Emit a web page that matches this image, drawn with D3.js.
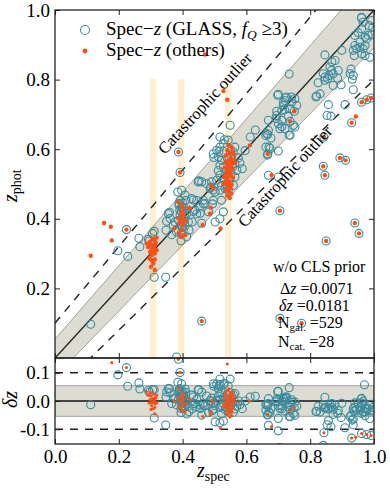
<!DOCTYPE html>
<html>
<head>
<meta charset="utf-8">
<script src="https://cdn.jsdelivr.net/npm/d3@7"></script>
<style>
body{margin:0;background:#fff}
svg{display:block;font-family:"Liberation Serif","DejaVu Serif",serif}
</style>
</head>
<body>
<svg id="chart"></svg>
<script>
// [zspec, zphot] pairs
const glassLowZ = [[0.112,0.097],[0.197,0.308],[0.224,0.369],[0.228,0.292],[0.263,0.344],[0.266,0.320]]
const glassZ03 = [[0.293,0.341],[0.296,0.336],[0.306,0.358],[0.311,0.364],[0.311,0.232],[0.347,0.232],[0.348,0.367]]
const glassZ04 = [[0.355,0.415],[0.361,0.401],[0.376,0.391],[0.389,0.439],[0.397,0.434],[0.402,0.425],[0.392,0.410],[0.387,0.396],
  [0.395,0.382],[0.402,0.367],[0.408,0.405],[0.413,0.415],[0.418,0.391],[0.420,0.367],[0.381,0.362],[0.395,0.358],[0.413,0.348],
  [0.395,0.337],[0.385,0.477],[0.397,0.482],[0.408,0.468],[0.392,0.453],[0.410,0.453],[0.389,0.444],[0.402,0.434],[0.451,0.509],
  [0.434,0.454],[0.444,0.414],[0.455,0.416],[0.460,0.387],[0.465,0.443],[0.430,0.391],[0.434,0.421],[0.428,0.458],[0.444,0.453],
  [0.455,0.434],[0.439,0.425],[0.470,0.444],[0.449,0.506],[0.359,0.419],[0.350,0.393],[0.371,0.382],[0.366,0.354],[0.392,0.533],
  [0.387,0.592],[0.381,0.003],[0.398,0.400],[0.400,0.388],[0.404,0.395],[0.396,0.420],[0.405,0.412],[0.399,0.375],[0.391,0.425],
  [0.407,0.380],[0.401,0.445]]
const glassZ055 = [[0.496,0.587],[0.507,0.597],[0.517,0.606],[0.528,0.616],[0.543,0.626],[0.564,0.606],[0.559,0.592],[0.554,0.578],
  [0.564,0.559],[0.570,0.539],[0.564,0.520],[0.559,0.496],[0.543,0.482],[0.533,0.487],[0.517,0.482],[0.522,0.496],[0.507,0.511],
  [0.528,0.516],[0.517,0.525],[0.512,0.539],[0.528,0.549],[0.517,0.554],[0.522,0.568],[0.512,0.578],[0.491,0.506],[0.475,0.501],
  [0.460,0.506],[0.486,0.487],[0.502,0.477],[0.496,0.453],[0.465,0.453],[0.481,0.420],[0.528,0.420],[0.522,0.453],[0.549,0.669],
  [0.517,0.635],[0.498,0.576],[0.514,0.593],[0.531,0.627],[0.488,0.491],[0.496,0.483],[0.494,0.443],[0.502,0.391],[0.517,0.400],
  [0.587,0.544],[0.596,0.596],[0.538,0.540],[0.548,0.560],[0.545,0.510],[0.552,0.530],[0.540,0.575],[0.556,0.548],[0.536,0.500],
  [0.550,0.595],[0.575,0.575],[0.580,0.560]]
const glassMid = [[0.612,0.635],[0.628,0.655],[0.661,0.639],[0.666,0.583],[0.667,0.642],[0.671,0.606],[0.700,0.758],[0.734,0.816],
  [0.695,0.709],[0.716,0.735],[0.723,0.747],[0.711,0.665],[0.731,0.695],[0.742,0.735],[0.752,0.745],[0.737,0.640],[0.752,0.664],
  [0.700,0.595],[0.720,0.713],[0.677,0.632],[0.669,0.654],[0.721,0.740],[0.726,0.750],[0.742,0.750],[0.758,0.726],[0.716,0.726],
  [0.711,0.712],[0.737,0.716],[0.695,0.697],[0.711,0.683],[0.721,0.659],[0.747,0.669],[0.705,0.659],[0.669,0.683],[0.664,0.645],
  [0.674,0.602],[0.693,0.688],[0.700,0.673],[0.734,0.640],[0.661,0.606],[0.698,0.755],[0.737,0.680],[0.750,0.709],[0.669,0.525],
  [0.700,0.520],[0.667,0.587]]
const glassHighZ = [[0.961,0.979],[0.966,0.965],[0.993,0.970],[0.961,0.946],[0.982,0.927],[0.993,0.929],[0.972,0.922],[0.977,0.917],
  [0.940,0.927],[0.956,0.908],[0.940,0.898],[0.946,0.889],[0.935,0.884],[0.956,0.893],[0.966,0.889],[0.972,0.898],[0.961,0.874],
  [0.972,0.869],[0.938,0.869],[0.846,0.871],[0.899,0.884],[0.878,0.855],[0.862,0.836],[0.867,0.826],[0.872,0.817],[0.859,0.812],
  [0.855,0.803],[0.886,0.804],[0.888,0.826],[0.841,0.817],[0.846,0.798],[0.825,0.791],[0.820,0.753],[0.831,0.759],[0.897,0.785],
  [0.928,0.830],[0.935,0.812],[0.872,0.783],[0.818,0.750],[0.857,0.728],[0.853,0.697],[0.865,0.695],[0.909,0.728],[0.935,0.771],
  [0.930,0.676],[0.961,0.735],[0.977,0.742],[0.991,0.747],[0.843,0.635],[0.970,1.084],[0.961,0.977],[0.925,0.817],[0.932,0.801],
  [0.987,0.864],[0.846,0.807],[0.868,0.851],[0.996,0.950],[0.985,0.955],[0.950,0.935]]
const glassOutliers = [[0.893,0.575],[0.911,0.568],[0.841,0.551],[0.846,0.525],[0.705,0.423],[0.940,0.388],[0.953,0.358],
  [0.850,0.336],[0.460,0.106],[0.705,0.114],[0.773,0.100]]

const othersLowZ = [[0.154,0.388],[0.175,0.377],[0.178,0.338],[0.112,0.294],[0.224,0.369]]
const othersZ03 = [[0.287,0.329],[0.298,0.334],[0.305,0.343],[0.313,0.341],[0.319,0.346],[0.301,0.324],[0.308,0.319],[0.313,0.324],
  [0.303,0.312],[0.298,0.305],[0.308,0.302],[0.313,0.300],[0.303,0.296],[0.319,0.310],[0.296,0.286],[0.303,0.281],[0.313,0.283],
  [0.308,0.272],[0.301,0.262],[0.313,0.253],[0.292,0.319],[0.316,0.331],[0.311,0.312]]
const othersZ04 = [[0.397,0.439],[0.402,0.430],[0.395,0.415],[0.399,0.401],[0.392,0.387],[0.402,0.382],[0.397,0.367],[0.389,0.358],
  [0.405,0.353],[0.395,0.348],[0.410,0.395],[0.387,0.401],[0.402,0.410],[0.374,0.372],[0.421,0.432],[0.408,0.353],[0.387,0.449],
  [0.392,0.533],[0.387,0.592],[0.400,0.420],[0.396,0.392]]
const othersZ055 = [[0.540,0.597],[0.548,0.588],[0.556,0.593],[0.535,0.582],[0.551,0.575],[0.560,0.570],[0.543,0.566],[0.538,0.558],
  [0.553,0.561],[0.546,0.552],[0.532,0.547],[0.557,0.545],[0.541,0.540],[0.549,0.535],[0.536,0.530],[0.552,0.527],[0.544,0.521],
  [0.558,0.518],[0.539,0.512],[0.547,0.507],[0.533,0.503],[0.554,0.498],[0.542,0.494],[0.550,0.488],[0.537,0.483],[0.545,0.478],
  [0.553,0.472],[0.540,0.466],[0.548,0.460],[0.544,0.545],[0.550,0.555],[0.535,0.565],[0.562,0.585],[0.555,0.605],[0.545,0.612],
  [0.530,0.520],[0.528,0.500],[0.565,0.560],[0.548,0.528],[0.541,0.503],[0.528,0.767],[0.540,0.742],[0.519,0.372],[0.463,0.382],
  [0.611,0.611],[0.491,0.496],[0.496,0.487],[0.488,0.432],[0.486,0.415],[0.423,0.430]]
const othersScatter = [[0.470,0.872],[0.679,0.526],[0.667,0.587],[0.750,0.709],[0.737,0.680],[0.943,0.694],[0.930,0.676],
  [0.961,0.735],[0.977,0.742],[0.991,0.747],[0.843,0.635],[0.893,0.575],[0.911,0.568],[0.841,0.551],[0.846,0.525],[0.705,0.423],
  [0.940,0.388],[0.953,0.358],[0.850,0.336],[0.460,0.106],[0.705,0.114],[0.773,0.100]]

const highlightZ = [0.307, 0.396, 0.543]   // spectroscopic spikes
const highlightTop = 0.8
const bandHalf = 0.0543    // 3 x delta z
const outlierCut = 0.1
const topTicks = [0.2, 0.4, 0.6, 0.8, 1.0]
const botTicks = [-0.1, 0.0, 0.1]
const xTicks = [0.0, 0.2, 0.4, 0.6, 0.8, 1.0]
const statLines = [['\u0394','z',' =0.0071'], ['\u03b4','z',' =0.0181']]
const countLines = [['gal.',' =529'], ['cat.',' =28']]

const glass = [].concat(glassLowZ, glassZ03, glassZ04, glassZ055, glassMid, glassHighZ, glassOutliers)
const others = [].concat(othersLowZ, othersZ03, othersZ04, othersZ055, othersScatter)

const W = 390, H = 488
const left = 55, right = 374, topY = 10, midY = 358, botY = 444
const teal = '#3a8c9c', orange = '#ff4f14'

const svg = d3.select('#chart').attr('width', W).attr('height', H)

const x = d3.scaleLinear().domain([0, 1]).range([left, right])
const yTop = d3.scaleLinear().domain([0, 1]).range([midY, topY])
const yBot = d3.scaleLinear().domain([-0.1525, 0.1525]).range([botY, midY])
const dz = d => (d[1] - d[0]) / (1 + d[0])

const defs = svg.append('defs')
defs.append('clipPath').attr('id', 'clipTop').append('rect')
  .attr('x', left).attr('y', topY).attr('width', right - left).attr('height', midY - topY)
defs.append('clipPath').attr('id', 'clipBot').append('rect')
  .attr('x', left).attr('y', midY).attr('width', right - left).attr('height', botY - midY)

// ---------- top panel ----------
const gTop = svg.append('g').attr('clip-path', 'url(#clipTop)')
const zLine = [0, 1]

gTop.append('path')
  .datum(zLine)
  .attr('fill', '#dcdcd2')
  .attr('d', d3.area().x(d => x(d)).y0(d => yTop(d - bandHalf * (1 + d))).y1(d => yTop(d + bandHalf * (1 + d))))

;[-1, 1].forEach(s => {
  gTop.append('path').datum(zLine)
    .attr('fill', 'none').attr('stroke', '#a3a39b').attr('stroke-width', 1)
    .attr('d', d3.line().x(d => x(d)).y(d => yTop(d + s * bandHalf * (1 + d))))
})

gTop.selectAll('rect.spike')
  .data(highlightZ)
  .enter()
  .append('rect')
  .attr('class', 'spike')
  .attr('x', d => x(d - 0.0085))
  .attr('width', d => x(d + 0.0085) - x(d - 0.0085))
  .attr('y', yTop(highlightTop))
  .attr('height', yTop(0) - yTop(highlightTop))
  .attr('fill', 'orange').attr('fill-opacity', 0.17)
  .attr('stroke', 'orange').attr('stroke-opacity', 0.12)

;[-1, 1].forEach(s => {
  gTop.append('path').datum(zLine)
    .attr('fill', 'none').attr('stroke', '#222').attr('stroke-width', 1.4)
    .attr('stroke-dasharray', '8,7')
    .attr('d', d3.line().x(d => x(d)).y(d => yTop(d + s * outlierCut * (1 + d))))
})

gTop.append('path').datum(zLine)
  .attr('fill', 'none').attr('stroke', '#2a2a2a').attr('stroke-width', 1.5)
  .attr('d', d3.line().x(d => x(d)).y(d => yTop(d)))

gTop.selectAll('circle.glass')
  .data(glass)
  .enter()
  .append('circle')
  .attr('class', 'glass')
  .attr('cx', d => x(d[0]))
  .attr('cy', d => yTop(d[1]))
  .attr('r', 4)
  .attr('fill', 'none').attr('stroke', teal).attr('stroke-width', 1.1)

gTop.selectAll('circle.other')
  .data(others)
  .enter()
  .append('circle')
  .attr('class', 'other')
  .attr('cx', d => x(d[0]))
  .attr('cy', d => yTop(d[1]))
  .attr('r', 2.2)
  .attr('fill', orange)

// ---------- bottom panel ----------
const gBot = svg.append('g').attr('clip-path', 'url(#clipBot)')

gBot.append('rect')
  .attr('x', left).attr('width', right - left)
  .attr('y', yBot(bandHalf)).attr('height', yBot(-bandHalf) - yBot(bandHalf))
  .attr('fill', '#dcdcd2').attr('stroke', '#a3a39b').attr('stroke-width', 1)

;[-outlierCut, outlierCut].forEach(v => {
  gBot.append('line')
    .attr('x1', left).attr('x2', right).attr('y1', yBot(v)).attr('y2', yBot(v))
    .attr('stroke', '#222').attr('stroke-width', 1.4).attr('stroke-dasharray', '8,7')
})

gBot.append('line')
  .attr('x1', left).attr('x2', right).attr('y1', yBot(0)).attr('y2', yBot(0))
  .attr('stroke', '#444').attr('stroke-width', 2)

gBot.selectAll('circle.glass')
  .data(glass)
  .enter()
  .append('circle')
  .attr('class', 'glass')
  .attr('cx', d => x(d[0]))
  .attr('cy', d => yBot(dz(d)))
  .attr('r', 4)
  .attr('fill', 'none').attr('stroke', teal).attr('stroke-width', 1.1)

gBot.selectAll('circle.other')
  .data(others)
  .enter()
  .append('circle')
  .attr('class', 'other')
  .attr('cx', d => x(d[0]))
  .attr('cy', d => yBot(dz(d)))
  .attr('r', 1.6)
  .attr('fill', orange)

// ---------- axes ----------
const styleAxis = g => {
  g.select('.domain').remove()
  g.selectAll('.tick line').attr('stroke', '#222').attr('stroke-width', 1)
  g.selectAll('.tick text').attr('fill', '#000').style('font-size', '19px')
    .style('font-family', '"Liberation Serif", serif')
}

svg.append('g').attr('transform', 'translate(' + left + ',0)')
  .call(d3.axisLeft(yTop).tickValues(topTicks).tickFormat(d => d.toFixed(1)).tickSize(-5).tickPadding(5))
  .call(styleAxis)
svg.append('g').attr('transform', 'translate(' + right + ',0)')
  .call(d3.axisRight(yTop).tickValues(topTicks).tickFormat('').tickSize(-5))
  .call(styleAxis)
svg.append('g').attr('transform', 'translate(0,' + topY + ')')
  .call(d3.axisTop(x).tickValues(xTicks).tickFormat('').tickSize(-5))
  .call(styleAxis)
svg.append('g').attr('transform', 'translate(0,' + midY + ')')
  .call(d3.axisBottom(x).tickValues(xTicks).tickFormat('').tickSize(-5))
  .call(styleAxis)
svg.append('g').attr('transform', 'translate(0,' + midY + ')')
  .call(d3.axisTop(x).tickValues(xTicks).tickFormat('').tickSize(-5))
  .call(styleAxis)

svg.append('g').attr('transform', 'translate(' + left + ',0)')
  .call(d3.axisLeft(yBot).tickValues(botTicks).tickFormat(d => d.toFixed(1)).tickSize(-5).tickPadding(5))
  .call(styleAxis)
svg.append('g').attr('transform', 'translate(' + right + ',0)')
  .call(d3.axisRight(yBot).tickValues(botTicks).tickFormat('').tickSize(-5))
  .call(styleAxis)
svg.append('g').attr('transform', 'translate(0,' + botY + ')')
  .call(d3.axisBottom(x).tickValues(xTicks).tickFormat(d => d.toFixed(1)).tickSize(-5).tickPadding(6))
  .call(styleAxis)

// frames
svg.append('rect').attr('x', left).attr('y', topY).attr('width', right - left).attr('height', midY - topY)
  .attr('fill', 'none').attr('stroke', '#222').attr('stroke-width', 1.3)
svg.append('rect').attr('x', left).attr('y', midY).attr('width', right - left).attr('height', botY - midY)
  .attr('fill', 'none').attr('stroke', '#222').attr('stroke-width', 1.3)

// axis labels
const yl = svg.append('text').attr('transform', 'translate(17,202) rotate(-90)').style('font-size', '20px')
yl.append('tspan').style('font-style', 'italic').text('z')
yl.append('tspan').attr('dy', 4).style('font-size', '14px').text('phot')

svg.append('text').attr('transform', 'translate(17,408) rotate(-90)').style('font-size', '20px')
  .style('font-style', 'italic').text('\u03b4z')

const xl = svg.append('text').attr('x', 197).attr('y', 477).style('font-size', '20px')
xl.append('tspan').style('font-style', 'italic').text('z')
xl.append('tspan').attr('dy', 4).style('font-size', '14px').text('spec')

// outlier labels
;[[209, 107], [289, 180]].forEach(p => {
  svg.append('text')
    .attr('transform', 'translate(' + p[0] + ',' + p[1] + ') rotate(-47.5)')
    .attr('text-anchor', 'middle')
    .style('font-size', '16.5px')
    .text('Catastrophic outlier')
})

// legend
svg.append('circle').attr('cx', 85).attr('cy', 30).attr('r', 4.5)
  .attr('fill', 'none').attr('stroke', teal).attr('stroke-width', 1.1)
svg.append('circle').attr('cx', 85).attr('cy', 51).attr('r', 2.4).attr('fill', orange)

const l1 = svg.append('text').attr('x', 106).attr('y', 35).style('font-size', '19px')
l1.append('tspan').text('Spec\u2212')
l1.append('tspan').style('font-style', 'italic').text('z')
l1.append('tspan').text(' (GLASS, ')
l1.append('tspan').style('font-style', 'italic').text('f')
l1.append('tspan').attr('dy', 4).style('font-style', 'italic').style('font-size', '13.5px').text('Q')
l1.append('tspan').attr('dy', -4).text(' \u22653)')

const l2 = svg.append('text').attr('x', 106).attr('y', 56).style('font-size', '19px')
l2.append('tspan').text('Spec\u2212')
l2.append('tspan').style('font-style', 'italic').text('z')
l2.append('tspan').text(' (others)')

// stats box
svg.append('text').attr('x', 273).attr('y', 271.5).style('font-size', '16px').text('w/o CLS prior')
statLines.forEach((s, i) => {
  const t = svg.append('text').attr('x', 280 - i).attr('y', 294 + i * 17).style('font-size', '16px')
  t.append('tspan').style('font-style', i ? 'italic' : 'normal').text(s[0])
  t.append('tspan').style('font-style', 'italic').text(s[1])
  t.append('tspan').text(s[2])
})
countLines.forEach((s, i) => {
  const t = svg.append('text').attr('x', 278).attr('y', 328 + i * 18.5).style('font-size', '16px')
  t.append('tspan').text('N')
  t.append('tspan').attr('dy', 3).style('font-size', '11px').text(s[0])
  t.append('tspan').attr('dy', -3).text(s[1])
})
</script>
</body>
</html>
